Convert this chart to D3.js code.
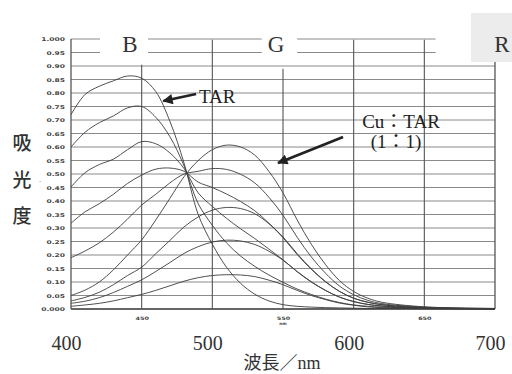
<!DOCTYPE html>
<html>
<head>
<meta charset="utf-8">
<script src="https://cdn.jsdelivr.net/npm/d3@7"></script>
<style>
   html, body { margin: 0; padding: 0; background: #fff; }
   svg { display: block; }
</style>
</head>
<body>
<div id="chart"></div>
<script>
// wavelength grid (nm) shared by every spectrum
const wavelengths = [400,410,420,430,440,450,460,470,480,490,500,510,520,530,540,550,560,570,580,590,600,610,620,650,700];

// TAR alone and the titration steps through the isosbestic point
const tar      = [0.72,0.795,0.825,0.845,0.863,0.855,0.805,0.695,0.54,0.35,0.24,0.155,0.095,0.055,0.03,0.016,0.01,0.007,0.005,0.004,0.003,0.002,0.002,0.001,0];
const tarStep1 = [0.60,0.655,0.69,0.715,0.745,0.75,0.71,0.638,0.53,0.39,0.31,0.245,0.196,0.158,0.126,0.099,0.074,0.054,0.037,0.024,0.015,0.01,0.007,0.003,0.001];
const tarStep2 = [0.452,0.505,0.535,0.555,0.59,0.62,0.612,0.578,0.52,0.43,0.38,0.336,0.297,0.261,0.222,0.182,0.138,0.10,0.069,0.044,0.028,0.017,0.011,0.004,0.001];
const tarStep3 = [0.318,0.36,0.39,0.425,0.465,0.496,0.518,0.522,0.51,0.47,0.45,0.426,0.398,0.364,0.318,0.264,0.202,0.147,0.101,0.065,0.04,0.025,0.016,0.005,0.001];
const tarStep4 = [0.19,0.215,0.245,0.285,0.333,0.385,0.425,0.467,0.50,0.51,0.52,0.517,0.499,0.467,0.414,0.347,0.266,0.193,0.133,0.085,0.053,0.032,0.02,0.007,0.002];
// Cu:TAR (1:1) complex and its lower concentrations
const cuTar     = [0.05,0.07,0.10,0.145,0.20,0.256,0.33,0.41,0.49,0.55,0.59,0.607,0.60,0.57,0.51,0.43,0.33,0.24,0.165,0.105,0.065,0.04,0.025,0.008,0.002];
const cuTarLow1 = [0.03,0.043,0.062,0.09,0.124,0.155,0.205,0.254,0.304,0.341,0.366,0.376,0.372,0.353,0.316,0.267,0.205,0.149,0.102,0.065,0.04,0.025,0.016,0.005,0.001];
const cuTarLow2 = [0.021,0.029,0.042,0.061,0.084,0.108,0.139,0.172,0.206,0.231,0.248,0.255,0.252,0.239,0.214,0.181,0.139,0.101,0.069,0.044,0.027,0.017,0.011,0.003,0.001];
const cuTarLow3 = [0.01,0.015,0.021,0.03,0.042,0.054,0.069,0.086,0.103,0.116,0.124,0.127,0.126,0.12,0.107,0.09,0.069,0.05,0.035,0.022,0.014,0.008,0.005,0.002,0];

const yTickLabels = ['0.000','0.05','0.10','0.15','0.20','0.25','0.30','0.35','0.40','0.45','0.50','0.55','0.60','0.65','0.70','0.75','0.80','0.85','0.90','0.95','1.000'];
const xMajorLabels = [400, 500, 600, 700];
const xMinorLabels = [450, 550, 650];
const bandLabels = ['B', 'G', 'R'];

const width = 512, height = 374;
const svg = d3.select('#chart').append('svg').attr('width', width).attr('height', height);

const x = d3.scaleLinear().domain([400, 700]).range([71, 495]);
const y = d3.scaleLinear().domain([0, 1]).range([309, 39]);
const yTickValues = yTickLabels.map((d) => +d);

// band header (B / G / R), R sits in a grey box
svg.append('rect')
   .attr('x', 471).attr('y', 13).attr('width', 41).attr('height', 49)
   .attr('fill', '#ececec');

// horizontal grid
const grid = svg.append('g').attr('class', 'grid');
yTickValues.forEach((v) => {
   let segs = [[400, 700]];
   if (v > 0.92) segs = [[400, 420.5], [454.5, 535], [560, 658]];
   segs.forEach((s) => {
      grid.append('line')
         .attr('x1', x(s[0])).attr('x2', x(s[1]))
         .attr('y1', y(v)).attr('y2', y(v))
         .attr('stroke', v === 0 ? '#333' : '#8a8a8a')
         .attr('stroke-width', v === 0 ? 1.6 : 1);
   });
});

// vertical grid
const vTop = { 400: 1.0, 450: 0.905, 500: 0.997, 550: 0.89, 600: 0.997, 650: 0.997, 700: 0.915 };
Object.keys(vTop).forEach((k) => {
   grid.append('line')
      .attr('x1', x(+k)).attr('x2', x(+k))
      .attr('y1', y(vTop[k])).attr('y2', y(0))
      .attr('stroke', '#555')
      .attr('stroke-width', +k === 400 || +k === 700 ? 1.3 : 1.1);
});

// spectra
const series = [tar, tarStep1, tarStep2, tarStep3, tarStep4, cuTar, cuTarLow1, cuTarLow2, cuTarLow3];
const line = d3.line()
   .x((d, i) => x(wavelengths[i]))
   .y((d) => y(d))
   .curve(d3.curveCatmullRom.alpha(0.5));
svg.append('g').attr('class', 'data-group')
   .selectAll('path')
   .data(series)
   .join('path')
   .attr('d', line)
   .attr('fill', 'none')
   .attr('stroke', '#3c3c3c')
   .attr('stroke-width', 0.9);

// y tick labels (tiny, wide print style)
const yAxisG = svg.append('g')
   .attr('transform', `translate(${x(400) - 6},0)`)
   .call(d3.axisLeft(y).tickValues(yTickValues).tickFormat((d, i) => yTickLabels[i]).tickSize(0).tickPadding(0));
yAxisG.select('.domain').remove();
yAxisG.selectAll('text')
   .attr('transform', 'scale(1.45,1)')
   .style('font-family', 'DejaVu Sans')
   .style('font-size', '5.2px')
   .style('font-weight', 'bold')
   .attr('fill', '#444');

// small x tick labels
const xMinorG = svg.append('g')
   .attr('transform', `translate(0,${y(0) + 8})`)
   .call(d3.axisBottom(x).tickValues(xMinorLabels).tickSize(0).tickPadding(0));
xMinorG.select('.domain').remove();
xMinorG.selectAll('text')
   .attr('transform', 'scale(1.4,1)')
   .style('font-family', 'DejaVu Sans')
   .style('font-size', '4.6px')
   .style('font-weight', 'bold')
   .attr('fill', '#444');
svg.append('text')
   .attr('x', x(550)).attr('y', y(0) + 16)
   .attr('text-anchor', 'middle')
   .style('font-family', 'DejaVu Sans').style('font-size', '4.2px').style('font-weight', 'bold')
   .attr('fill', '#444')
   .text('nm');

// big x labels
const xMajorG = svg.append('g')
   .attr('transform', `translate(0,336)`)
   .call(d3.axisBottom(x).tickValues(xMajorLabels).tickSize(0).tickPadding(0));
xMajorG.select('.domain').remove();
xMajorG.selectAll('text')
   .attr('dx', -5)
   .style('font-family', 'Liberation Serif')
   .style('font-size', '20px')
   .attr('fill', '#333');

// axis titles
svg.append('text')
   .attr('x', 282).attr('y', 369)
   .attr('text-anchor', 'middle')
   .style('font-family', '"Liberation Serif", "Noto Sans CJK JP"')
   .style('font-size', '18px')
   .attr('fill', '#333')
   .text('波長／nm');

const yTitle = ['吸', '光', '度'];
svg.append('g').selectAll('text')
   .data(yTitle)
   .join('text')
   .attr('x', 22)
   .attr('y', (d, i) => 150 + i * 36.5)
   .attr('text-anchor', 'middle')
   .style('font-family', 'Noto Sans CJK JP')
   .style('font-size', '19px')
   .style('font-weight', '500')
   .attr('fill', '#333')
   .text((d) => d);
svg.append('text')
   .attr('x', 40).attr('y', 184)
   .attr('text-anchor', 'middle')
   .style('font-size', '8px').attr('fill', '#555')
   .text('·');

// band letters
const bandX = { B: 130, G: 276, R: 502 };
svg.append('g').selectAll('text')
   .data(bandLabels)
   .join('text')
   .attr('x', (d) => bandX[d])
   .attr('y', 52)
   .attr('text-anchor', 'middle')
   .style('font-family', 'Liberation Serif')
   .style('font-size', '23px')
   .attr('fill', '#333')
   .text((d) => d);

// annotations
svg.append('defs').append('marker')
   .attr('id', 'head')
   .attr('viewBox', '0 0 10 10')
   .attr('refX', 9).attr('refY', 5)
   .attr('markerWidth', 5).attr('markerHeight', 4)
   .attr('markerUnits', 'strokeWidth')
   .attr('orient', 'auto')
   .append('path')
   .attr('d', 'M0,0 L10,5 L0,10 Z')
   .attr('fill', '#222');

const arrow = (x1, y1, x2, y2) => svg.append('line')
   .attr('x1', x(x1)).attr('y1', y(y1))
   .attr('x2', x(x2)).attr('y2', y(y2))
   .attr('stroke', '#222')
   .attr('stroke-width', 2.6)
   .attr('marker-end', 'url(#head)');

arrow(488.5, 0.796, 465.3, 0.77);
arrow(592.5, 0.637, 546.5, 0.541);

const label = (txt, xv, yv, anchor) => svg.append('text')
   .attr('x', x(xv)).attr('y', y(yv))
   .attr('text-anchor', anchor)
   .style('font-family', '"Liberation Serif", "Noto Sans CJK JP"')
   .style('font-size', '19px')
   .attr('fill', '#222')
   .text(txt);

label('TAR', 490.5, 0.762, 'start');
label('Cu：TAR', 633.5, 0.672, 'middle');
label('(1：1)', 630, 0.598, 'middle');
</script>
</body>
</html>
